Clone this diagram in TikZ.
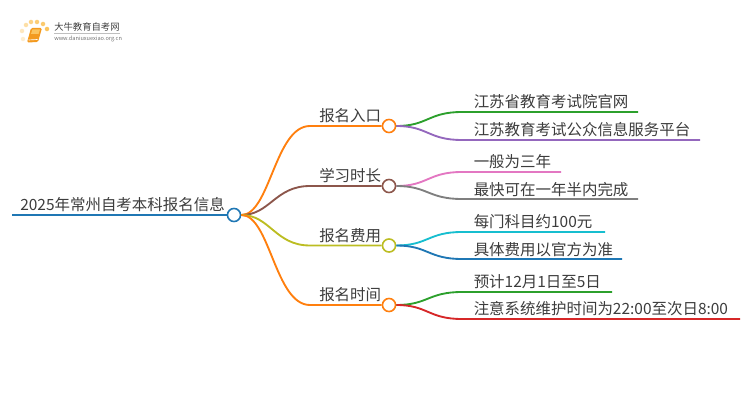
\documentclass[tikz,border=0pt]{standalone}
\usepackage{fontspec}
\newfontfamily\cjk{Noto Sans CJK SC}
\definecolor{cblue}{HTML}{1F77B4}
\definecolor{corange}{HTML}{FF7F0E}
\definecolor{cbrown}{HTML}{8C564B}
\definecolor{colive}{HTML}{BCBD22}
\definecolor{cgreen}{HTML}{2CA02C}
\definecolor{cpurple}{HTML}{9467BD}
\definecolor{cpink}{HTML}{E377C2}
\definecolor{cgray}{HTML}{7F7F7F}
\definecolor{ccyan}{HTML}{17BECF}
\definecolor{cred}{HTML}{D62728}
\definecolor{ctext}{HTML}{3C3C3C}
\definecolor{csun}{HTML}{FBC45E}
\definecolor{cbook}{HTML}{F39A1F}
\tikzset{
  topic/.style={anchor=west, inner sep=0pt, text=ctext, font=\cjk\fontsize{11.6}{13}\selectfont},
  dot/.style={circle, draw=#1, fill=white, line width=1.2pt, minimum size=9.8pt, inner sep=0pt},
  branch/.style={draw=#1, line width=1.4pt},
  sun/.style={circle, fill=csun!#1, inner sep=0pt, minimum size=3.4pt}
}
\begin{document}
\begin{tikzpicture}[x=0.75pt, y=-0.75pt]
\useasboundingbox (0,0) rectangle (750,410);

% Logo
\node[sun=30] at (23,39) {};
\node[sun=40] at (22,31) {};
\node[sun=55] at (26,25) {};
\node[sun=75] at (31,22) {};
\node[sun=85] at (37,22) {};
\node[sun=90] at (43,24) {};
\node[sun=100] at (47,29) {};
\fill[cbook, rounded corners=1pt] (31,28) -- (42,28) -- (38,42) -- (27,42.5) -- cycle;
\fill[csun] (32.5,29.5) -- (40,29.5) -- (38.5,34) -- (31,34) -- cycle;
\draw[white, line width=0.5pt] (28.5,40) -- (37.5,39.5);
\node[anchor=west, inner sep=0pt, text=black!75, font=\cjk\fontsize{7}{8}\selectfont] (logoname) at (54,27) {大牛教育自考网};
\node[anchor=west, inner sep=0pt, text=black!55, font=\cjk\fontsize{4.2}{5}\selectfont] (logourl) at (54,38.5) {www.daniuxuexiao.org.cn};
\draw[black!25, line width=0.4pt] (logoname.south west) ++(0,2) -- ++(66,0);

% Root
\coordinate (rootstart) at (12,215);
\node[dot=cblue] (root) at (234,215) {};
\draw[branch=cblue, line width=2.1pt] (rootstart) -- (root);
\node[topic] (roottext) at (20,205) {2025年常州自考本科报名信息};

% Branches
\node[dot=corange] (entry) at (389,126) {};
\node[dot=cbrown] (study) at (389,186) {};
\node[dot=colive] (fee) at (389,245.5) {};
\node[dot=corange] (date) at (389,305) {};
\coordinate (entrybend) at (310,126);
\coordinate (studybend) at (310,186);
\coordinate (feebend) at (310,245.5);
\coordinate (datebend) at (310,305);
\draw[branch=corange] (root.east) .. controls (270,215) and (275,126) .. (entrybend) -- (entry);
\draw[branch=cbrown] (root.east) .. controls (270,215) and (275,186) .. (studybend) -- (study);
\draw[branch=colive] (root.east) .. controls (270,215) and (275,245.5) .. (feebend) -- (fee);
\draw[branch=corange] (root.east) .. controls (270,215) and (275,305) .. (datebend) -- (date);
\node[topic] (entrytext) at (319,116) {报名入口};
\node[topic] (studytext) at (319,176) {学习时长};
\node[topic] (feetext) at (319,235.5) {报名费用};
\node[topic] (datetext) at (319,295) {报名时间};

% Leaves
\coordinate (a1) at (462,112);  \coordinate (a1end) at (638,112);
\coordinate (a2) at (462,140);  \coordinate (a2end) at (700,140);
\coordinate (b1) at (462,172);  \coordinate (b1end) at (561,172);
\coordinate (b2) at (462,199);  \coordinate (b2end) at (638,199);
\coordinate (c1) at (462,232);  \coordinate (c1end) at (605,232);
\coordinate (c2) at (462,259);  \coordinate (c2end) at (622,259);
\coordinate (d1) at (462,292);  \coordinate (d1end) at (612,292);
\coordinate (d2) at (462,319);  \coordinate (d2end) at (740,319);
\draw[branch=cgreen] (entry.east) .. controls (428,126) and (428,112) .. (a1) -- (a1end);
\draw[branch=cpurple] (entry.east) .. controls (428,126) and (428,140) .. (a2) -- (a2end);
\draw[branch=cpink] (study.east) .. controls (428,186) and (428,172) .. (b1) -- (b1end);
\draw[branch=cgray] (study.east) .. controls (428,186) and (428,199) .. (b2) -- (b2end);
\draw[branch=ccyan] (fee.east) .. controls (428,245.5) and (428,232) .. (c1) -- (c1end);
\draw[branch=cblue] (fee.east) .. controls (428,245.5) and (428,259) .. (c2) -- (c2end);
\draw[branch=cgreen] (date.east) .. controls (428,305) and (428,292) .. (d1) -- (d1end);
\draw[branch=cred] (date.east) .. controls (428,305) and (428,319) .. (d2) -- (d2end);
\node[topic] (a1text) at (473.5,102) {江苏省教育考试院官网};
\node[topic] (a2text) at (473.5,130) {江苏教育考试公众信息服务平台};
\node[topic] (b1text) at (473.5,162) {一般为三年};
\node[topic] (b2text) at (473.5,189.5) {最快可在一年半内完成};
\node[topic] (c1text) at (473.5,222) {每门科目约100元};
\node[topic] (c2text) at (473.5,249.5) {具体费用以官方为准};
\node[topic] (d1text) at (473.5,282) {预计12月1日至5日};
\node[topic] (d2text) at (473.5,309) {注意系统维护时间为22:00至次日8:00};

\end{tikzpicture}
\end{document}
